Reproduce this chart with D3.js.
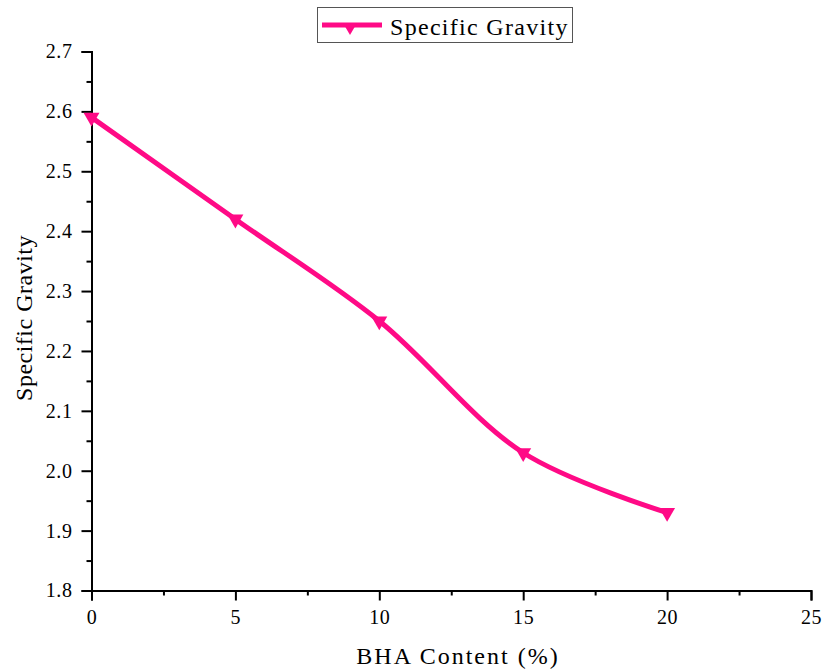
<!DOCTYPE html>
<html>
<head>
<meta charset="utf-8">
<script src="https://cdn.jsdelivr.net/npm/d3@7"></script>
<style>
  body { margin: 0; background: #fff; }
  svg text { font-family: "Liberation Serif", "Times New Roman", serif; fill: #000; }
</style>
</head>
<body>
<svg id="chart"></svg>
<script>
// values
const bhaContent = [0, 5, 10, 15, 20]
const specificGravity = [2.59, 2.42, 2.25, 2.03, 1.93]
const xTicks = [0, 5, 10, 15, 20, 25]
const yTicks = [1.8, 1.9, 2.0, 2.1, 2.2, 2.3, 2.4, 2.5, 2.6, 2.7]

const W = 823, H = 670
const pink = '#ff0a86'

const svg = d3.select('#chart').attr('width', W).attr('height', H)

const x = d3.scaleLinear().domain([0, 25]).range([91.5, 811])
const y = d3.scaleLinear().domain([1.8, 2.7]).range([590.5, 51.5])

// minor ticks halfway between majors
const xMinor = d3.range(2.5, 25, 5)
const yMinor = d3.range(1.85, 2.7, 0.1)

const gx = svg.append('g').attr('transform', `translate(0,${y(1.8)})`)
gx.call(d3.axisBottom(x).tickValues(xTicks).tickFormat(d3.format('d')).tickSize(10).tickPadding(9))
gx.append('g').call(d3.axisBottom(x).tickValues(xMinor).tickFormat('').tickSize(5))
  .select('.domain').remove()

const gy = svg.append('g').attr('transform', `translate(${x(0)},0)`)
gy.call(d3.axisLeft(y).tickValues(yTicks).tickFormat(d3.format('.1f')).tickSize(10).tickPadding(9))
gy.append('g').call(d3.axisLeft(y).tickValues(yMinor).tickFormat('').tickSize(5))
  .select('.domain').remove()

svg.selectAll('.domain').attr('stroke', '#000').attr('stroke-width', 2)
svg.selectAll('.tick line').attr('stroke', '#000').attr('stroke-width', 2)
svg.selectAll('.tick text')
  .style('font-family', '"Liberation Serif", serif')
  .style('font-size', '20px')
  .style('letter-spacing', '0.6px')

// axis titles
svg.append('text')
  .attr('x', 458).attr('y', 664)
  .attr('text-anchor', 'middle')
  .style('font-size', '24px').style('letter-spacing', '2px')
  .text('BHA Content (%)')

svg.append('text')
  .attr('transform', 'translate(32,318) rotate(-90)')
  .attr('text-anchor', 'middle')
  .style('font-size', '24px').style('letter-spacing', '0.5px')
  .text('Specific Gravity')

const data = bhaContent.map((d, i) => ({x: d, y: specificGravity[i]}))

const line = d3.line()
  .x(d => x(d.x)).y(d => y(d.y))
  .curve(d3.curveCatmullRom.alpha(0.5))

svg.append('path').datum(data)
  .attr('d', line)
  .attr('fill', 'none').attr('stroke', pink).attr('stroke-width', 5)

const tri = d3.symbol().type(d3.symbolTriangle).size(110)

svg.selectAll('.marker').data(data).join('path')
  .attr('class', 'marker')
  .attr('d', tri)
  .attr('transform', d => `translate(${x(d.x)},${y(d.y)}) rotate(180)`)
  .attr('fill', pink)

// legend
const lg = svg.append('g')
lg.append('rect')
  .attr('x', 317.5).attr('y', 7.5).attr('width', 255).attr('height', 35)
  .attr('fill', '#fff').attr('stroke', '#555').attr('stroke-width', 1)
lg.append('line')
  .attr('x1', 322).attr('x2', 382).attr('y1', 25).attr('y2', 25)
  .attr('stroke', pink).attr('stroke-width', 5)
lg.append('path').attr('d', d3.symbol().type(d3.symbolTriangle).size(85))
  .attr('transform', 'translate(350,27) rotate(180)').attr('fill', pink)
lg.append('text')
  .attr('x', 390).attr('y', 35)
  .style('font-size', '24px').style('letter-spacing', '1.3px')
  .text('Specific Gravity')
</script>
</body>
</html>
